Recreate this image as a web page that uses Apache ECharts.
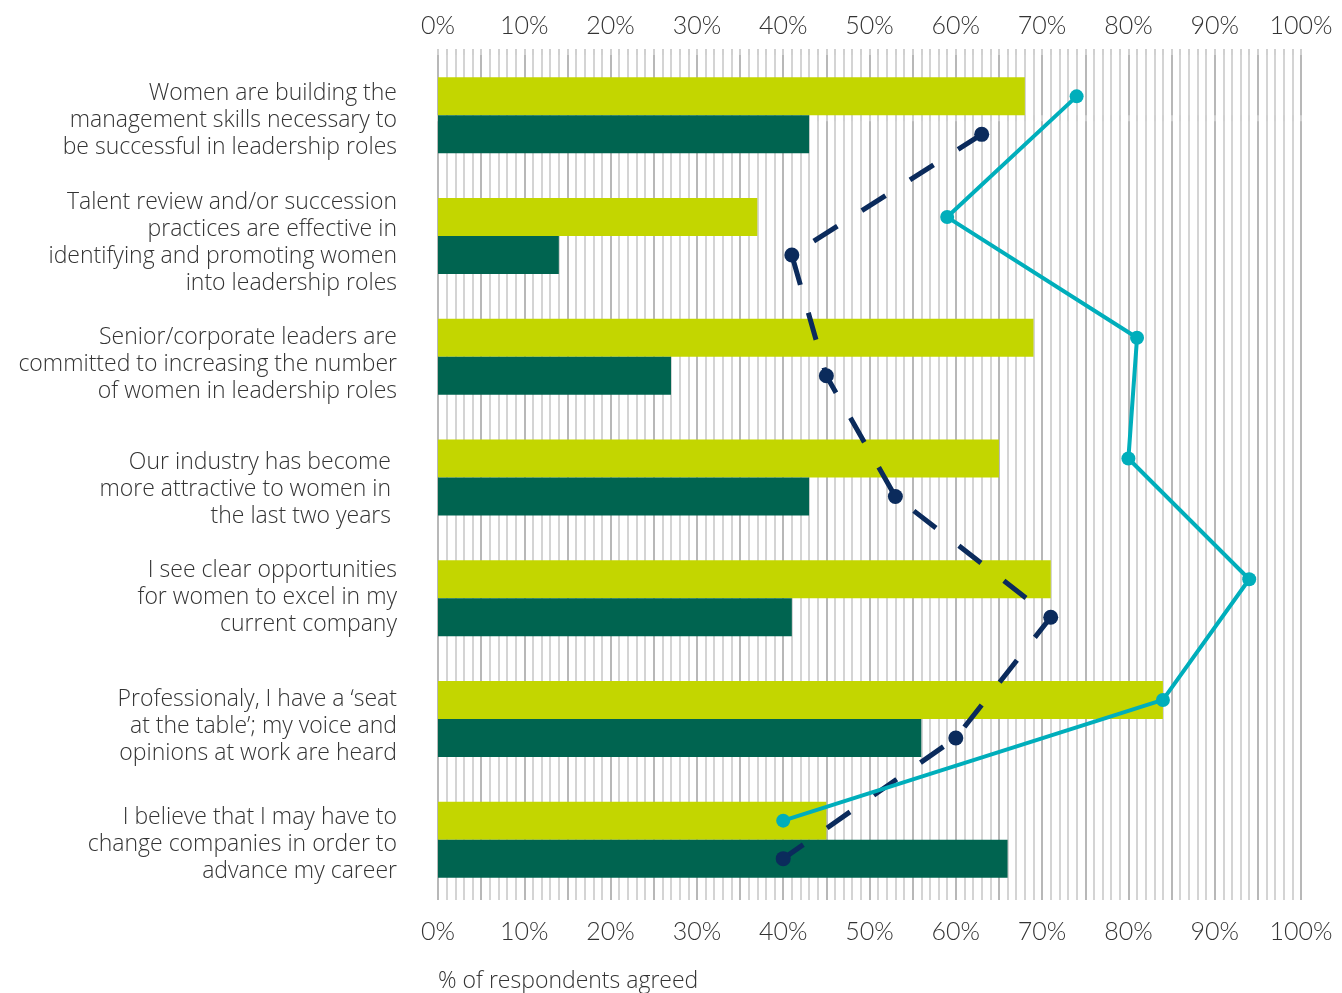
<!DOCTYPE html>
<html>
<head>
<meta charset="utf-8">
<script src="https://cdn.jsdelivr.net/npm/echarts@6/dist/echarts.min.js"></script>
<style>
  html, body { margin: 0; padding: 0; background: #fff; }
  #chart { width: 1342px; height: 993px; }
</style>
</head>
<body>
<div id="chart"></div>
<script>
// Survey statements, top to bottom
const categories = [
  'Women are building the\nmanagement skills necessary to\nbe successful in leadership roles',
  'Talent review and/or succession\npractices are effective in\nidentifying and promoting women\ninto leadership roles',
  'Senior/corporate leaders are\ncommitted to increasing the number\nof women in leadership roles',
  'Our industry has become\nmore attractive to women in\nthe last two years',
  'I see clear opportunities\nfor women to excel in my\ncurrent company',
  'Professionaly, I have a \u2018seat\nat the table\u2019; my voice and\nopinions at work are heard',
  'I believe that I may have to\nchange companies in order to\nadvance my career'
];

// % agreed, bar series (light green on top, dark green below)
const barLight = [68, 37, 69, 65, 71, 84, 45];
const barDark  = [43, 14, 27, 43, 41, 56, 66];

// % agreed, line series
const lineTeal = [74, 59, 81, 80, 94, 84, 40];
const lineNavy = [63, 41, 45, 53, 71, 60, 40];

// Axis tick labels
const tickLabels = ['0%', '10%', '20%', '30%', '40%', '50%', '60%', '70%', '80%', '90%', '100%'];

// Per-label nudges for the statement text block: [down px, extra right inset px]
const labelNudge = [[5, 0], [7, 0], [8, 0], [12, 6], [-1, 0], [8, 0], [5, 0]];

const FONT = 'Lato';
const LABEL_FONT = 'Open Sans';
const LINE_H = 27;
const GRID_TOP = 55, GRID_H = 845, BAR_W = 38;
const band = GRID_H / categories.length;
const half = (BAR_W / 2) / band; // centre of each bar, in category units

const tealPts = lineTeal.map((v, i) => [v, i - half]);
const navyPts = lineNavy.map((v, i) => [v, i + half]);

const gridColors = [];
for (let i = 0; i < 5; i++) gridColors.push(i === 0 ? '#b8b8b8' : '#d4d4d4');

function xAxisDef(pos, withSplit) {
  return {
    type: 'value', position: pos, min: 0, max: 100, interval: 1,
    axisLine: { show: false },
    axisTick: { show: true, inside: false, length: 6, interval: 0,
                lineStyle: { color: '#d0d0d0', width: 2 } },
    splitLine: { show: withSplit, lineStyle: { color: gridColors, width: 2 } },
    axisLabel: {
      interval: 0, margin: pos === 'top' ? 17 : 19,
      fontFamily: FONT, fontWeight: 300, fontSize: 25, color: '#333',
      formatter: v => (v % 10 === 0 ? tickLabels[v / 10] : '')
    }
  };
}

// Statement label: rich lines plus a spacer line that shifts the block vertically
function statementLabel(value, index) {
  const [dy, dx] = labelNudge[index];
  const style = dx ? 'u' : 't';
  const lines = value.split('\n').map(l => '{' + style + '|' + l + '}');
  const spacer = dy > 0 ? 's' + dy : 's' + (-dy);
  if (dy > 0) lines.unshift('{' + spacer + '| }');
  else if (dy < 0) lines.push('{' + spacer + '| }');
  return lines.join('\n');
}

const baseText = { fontFamily: LABEL_FONT, fontWeight: 300, fontSize: 23, lineHeight: LINE_H, color: '#333' };
const rich = { t: baseText, u: Object.assign({}, baseText, { padding: [0, 6, 0, 0] }) };
labelNudge.forEach(([dy]) => {
  const k = 's' + Math.abs(dy);
  rich[k] = { fontSize: 1, lineHeight: Math.abs(dy) * 2 };
});

const option = {
  animation: false,
  grid: { left: 438, right: 41, top: GRID_TOP, height: GRID_H, containLabel: false },
  xAxis: [xAxisDef('bottom', true), xAxisDef('top', false)],
  yAxis: [
    {
      type: 'category', inverse: true, data: categories,
      axisLine: { show: false }, axisTick: { show: false },
      axisLabel: {
        margin: 41, align: 'right', formatter: statementLabel, rich: rich,
        fontFamily: LABEL_FONT, fontWeight: 300, fontSize: 23, lineHeight: LINE_H, color: '#333'
      }
    },
    { type: 'value', inverse: true, min: -0.5, max: 6.5, show: false }
  ],
  graphic: [{
    type: 'text', left: 438, top: 970,
    style: { text: '% of respondents agreed', font: '300 23px "' + LABEL_FONT + '"', fill: '#333' }
  }],
  series: [
    { type: 'bar', data: barLight, barWidth: BAR_W, barGap: '0%',
      itemStyle: { color: '#c3d600' }, z: 2 },
    { type: 'bar', data: barDark, barWidth: BAR_W, barGap: '0%',
      itemStyle: { color: '#006450' }, z: 2 },
    { type: 'line', yAxisIndex: 1, data: navyPts, symbol: 'circle', symbolSize: 15,
      lineStyle: { color: '#0b2b5c', width: 5, type: [28, 29] },
      itemStyle: { color: '#0b2b5c' }, z: 5 },
    { type: 'line', yAxisIndex: 1, data: tealPts, symbol: 'circle', symbolSize: 14,
      lineStyle: { color: '#00aebb', width: 4 },
      itemStyle: { color: '#00aebb' }, z: 6 }
  ]
};

echarts.init(document.getElementById('chart')).setOption(option);
</script>
</body>
</html>
